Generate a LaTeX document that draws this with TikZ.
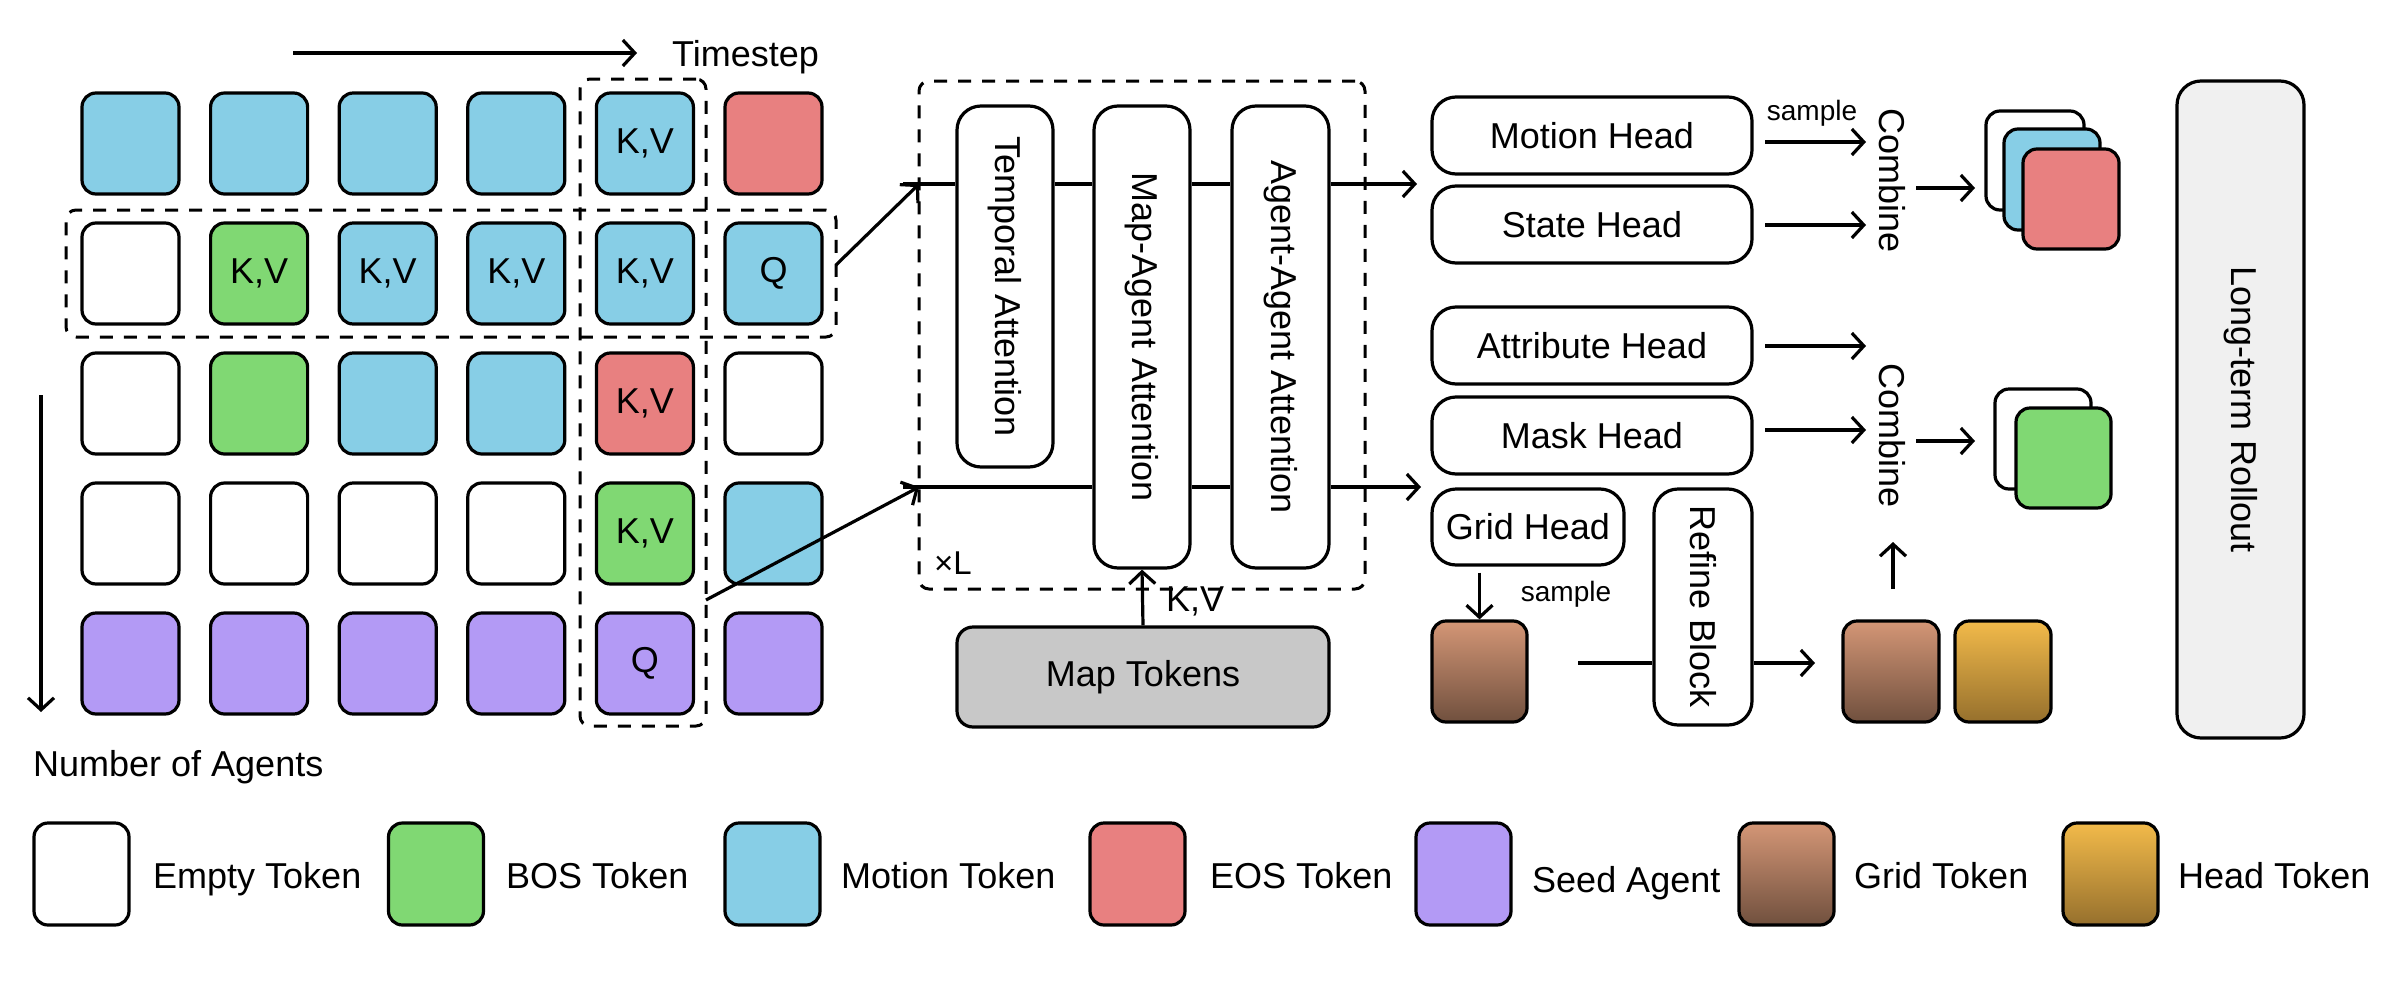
\documentclass[tikz,border=0pt]{standalone}
\usepackage{fontspec}
\setmainfont{Liberation Sans}
\usetikzlibrary{arrows.meta,calc}
\definecolor{cblue}{HTML}{87CEE6}
\definecolor{cgreen}{HTML}{80D873}
\definecolor{cred}{HTML}{E88080}
\definecolor{cpurple}{HTML}{B39AF5}
\definecolor{gridtop}{HTML}{D49676}
\definecolor{gridbot}{HTML}{70503E}
\definecolor{headtop}{HTML}{F2BA4A}
\definecolor{headbot}{HTML}{96702D}
\definecolor{mapgray}{HTML}{C8C8C8}
\definecolor{rollgray}{HTML}{F0F0F0}
\newcommand{\mainfs}{\fontsize{36pt}{43pt}\selectfont}
\newcommand{\smallfs}{\fontsize{28pt}{34pt}\selectfont}
\newcommand{\midfs}{\fontsize{33pt}{40pt}\selectfont}
\begin{document}
\begin{tikzpicture}[x=1pt,y=-1pt,font=\mainfs,
  tok/.style={draw,line width=3.2pt,rounded corners=14pt,minimum width=97pt,minimum height=101pt,inner sep=0pt},
  gtok/.style={tok,top color=gridtop,bottom color=gridbot},
  htok/.style={tok,top color=headtop,bottom color=headbot},
  blk/.style={draw,line width=3.2pt,rounded corners=24pt,inner sep=0pt,fill=white},
  dbox/.style={draw,line width=3pt,dash pattern=on 13pt off 11pt,rounded corners=10pt,inner sep=0pt},
  ln/.style={line width=3.2pt},
  arr/.style={line width=3.2pt,-{Straight Barb[length=12pt,width=26pt,line width=3.2pt]}},
  lbl/.style={inner sep=0pt,anchor=base west}
]
\useasboundingbox (0,0) rectangle (2402,988);
\newcommand{\tk}[4]{\node[tok,fill=#3] (t#1#2) at ({130.5+128.6*#2},{143.5+130*#1}) {#4};}
% token grid
\tk{0}{0}{cblue}{}\tk{0}{1}{cblue}{}\tk{0}{2}{cblue}{}\tk{0}{3}{cblue}{}\tk{0}{4}{cblue}{K,V}\tk{0}{5}{cred}{}
\tk{1}{0}{white}{}\tk{1}{1}{cgreen}{K,V}\tk{1}{2}{cblue}{K,V}\tk{1}{3}{cblue}{K,V}\tk{1}{4}{cblue}{K,V}\tk{1}{5}{cblue}{Q}
\tk{2}{0}{white}{}\tk{2}{1}{cgreen}{}\tk{2}{2}{cblue}{}\tk{2}{3}{cblue}{}\tk{2}{4}{cred}{K,V}\tk{2}{5}{white}{}
\tk{3}{0}{white}{}\tk{3}{1}{white}{}\tk{3}{2}{white}{}\tk{3}{3}{white}{}\tk{3}{4}{cgreen}{K,V}\tk{3}{5}{cblue}{}
\tk{4}{0}{cpurple}{}\tk{4}{1}{cpurple}{}\tk{4}{2}{cpurple}{}\tk{4}{3}{cpurple}{}\tk{4}{4}{cpurple}{Q}\tk{4}{5}{cpurple}{}
% dashed selections
\node[dbox,minimum width=126pt,minimum height=647pt] (colbox) at (643,402.5) {};
\node[dbox,minimum width=770pt,minimum height=127pt] (rowbox) at (451,273.5) {};
% axes
\coordinate (ts0) at (293,53);
\coordinate (ts1) at (637,53);
\draw[arr] (ts0) -- (ts1);
\node[lbl] (tslbl) at (672,66) {Timestep};
\coordinate (ag0) at (41,395);
\coordinate (ag1) at (41,712);
\draw[arr] (ag0) -- (ag1);
\node[lbl] (aglbl) at (33,776) {Number of Agents};
% transformer
\node[dbox,minimum width=446pt,minimum height=508pt] (tbox) at (1142,335) {};
\node[blk,minimum width=96pt,minimum height=361pt] (temporal) at (1005,286.5) {\rotatebox{-90}{Temporal Attention}};
\node[blk,minimum width=96pt,minimum height=462pt] (mapatt) at (1142,337) {\rotatebox{-90}{Map-Agent Attention}};
\node[blk,minimum width=97pt,minimum height=462pt] (agatt) at (1280.5,337) {\rotatebox{-90}{Agent-Agent Attention}};
\node[lbl] (xl) at (934,574) {\midfs ×L};
\node[draw,line width=3.2pt,rounded corners=16pt,fill=mapgray,minimum width=372pt,minimum height=100pt] (maptok) at (1143,677) {Map Tokens};
\draw[arr] (maptok.north) -- (mapatt.south);
\node[lbl] (kvlbl) at (1166,611) {K,V};
\coordinate (tl) at (903,184);
\coordinate (bl) at (903,487);
\coordinate (tin) at (919,184);
\coordinate (bin) at (919,487);
\coordinate (tout) at (1417,184);
\coordinate (bout) at (1421,487);
\draw[ln] (tl) -- (temporal.west |- tl);
\draw[ln] (temporal.east |- tl) -- (mapatt.west |- tl);
\draw[ln] (mapatt.east |- tl) -- (agatt.west |- tl);
\draw[arr] (agatt.east |- tl) -- (tout);
\draw[ln] (bl) -- (mapatt.west |- bl);
\draw[ln] (mapatt.east |- bl) -- (agatt.west |- bl);
\draw[arr] (agatt.east |- bl) -- (bout);
\coordinate (rowout) at (836,265);
\coordinate (colout) at (706,600);
\draw[arr] (rowout) -- (tin);
\draw[arr] (colout) -- (bin);
% heads
\tikzset{head/.style={blk,minimum width=320pt,minimum height=77pt}}
\node[head] (motion) at (1592,135.5) {Motion Head};
\node[head] (state) at (1592,224.5) {State Head};
\node[head] (attr) at (1592,345.5) {Attribute Head};
\node[head] (mask) at (1592,435.5) {Mask Head};
\node[blk,minimum width=192pt,minimum height=76pt] (gridh) at (1528,527) {Grid Head};
\node[blk,minimum width=98pt,minimum height=236pt] (refine) at (1703,607) {\rotatebox{-90}{Refine Block}};
\node[inner sep=0pt] (comb1) at (1892,181) {\rotatebox{-90}{Combine}};
\node[inner sep=0pt] (comb2) at (1892,436) {\rotatebox{-90}{Combine}};
\draw[arr] (1765,142) -- (1866,142);
\node[inner sep=0pt,anchor=base] (samp1) at (1812,120) {\smallfs sample};
\draw[arr] (1765,225) -- (1866,225);
\draw[arr] (1765,346) -- (1866,346);
\draw[arr] (1765,430) -- (1866,430);
% grid path
\node[gtok,minimum width=95pt] (gtok1) at (1479.5,671.5) {};
\draw[arr] (gridh.south -| gtok1) ++(0,6) -- (gtok1.north);
\node[inner sep=0pt,anchor=base] (samp2) at (1566,601) {\smallfs sample};
\coordinate (gl) at (1578,663);
\draw[ln] (gl) -- (refine.west |- gl);
\node[gtok,minimum width=96pt] (gtok2) at (1891,671.5) {};
\node[htok,minimum width=96pt] (htok2) at (2003,671.5) {};
\draw[arr] (refine.east |- gl) -- (1815,663);
\draw[arr] (1893,589) -- (1893,542);
% stacks
\node[tok,fill=white,minimum width=98pt,minimum height=99pt] (s1a) at (2035,160.5) {};
\node[tok,fill=cblue,minimum width=96pt] (s1b) at (2052,179.5) {};
\node[tok,fill=cred,minimum width=96pt,minimum height=100pt] (s1c) at (2071,199) {};
\node[tok,fill=white,minimum width=96pt,minimum height=100pt] (s2a) at (2043,439) {};
\node[tok,fill=cgreen,minimum width=95pt,minimum height=100pt] (s2b) at (2063.5,458) {};
\draw[arr] (1916,188) -- (1975,188);
\draw[arr] (1916,441) -- (1975,441);
% rollout
\node[draw,line width=3.2pt,rounded corners=24pt,fill=rollgray,minimum width=127pt,minimum height=657pt,inner sep=0pt] (roll) at (2240.5,409.5) {\rotatebox{-90}{Long-term Rollout}};
% legend
\tikzset{ltok/.style={tok,minimum width=95pt,minimum height=102pt}}
\node[ltok,fill=white] (l1) at (81.5,874) {};
\node[lbl] (l1t) at (153,888) {Empty Token};
\node[ltok,fill=cgreen] (l2) at (436,874) {};
\node[lbl] (l2t) at (506,888) {BOS Token};
\node[ltok,fill=cblue] (l3) at (772.5,874) {};
\node[lbl] (l3t) at (841,888) {Motion Token};
\node[ltok,fill=cred] (l4) at (1137.5,874) {};
\node[lbl] (l4t) at (1210,888) {EOS Token};
\node[ltok,fill=cpurple] (l5) at (1463.5,874) {};
\node[lbl] (l5t) at (1532,892) {Seed Agent};
\node[ltok,top color=gridtop,bottom color=gridbot] (l6) at (1786.5,874) {};
\node[lbl] (l6t) at (1854,888) {Grid Token};
\node[ltok,top color=headtop,bottom color=headbot] (l7) at (2110.5,874) {};
\node[lbl] (l7t) at (2178,888) {Head Token};
\end{tikzpicture}
\end{document}
